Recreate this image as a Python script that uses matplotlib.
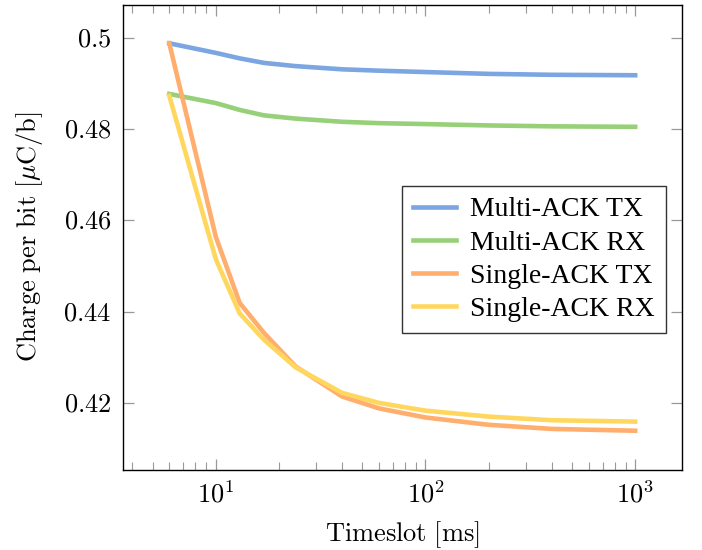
import matplotlib
matplotlib.use("Agg")
import matplotlib.pyplot as plt
import numpy as np

# timeslot [ms]
timeslot = [6, 10, 13, 17, 24, 40, 60, 100, 200, 400, 1000]

multi_tx = [0.4988, 0.4967, 0.4955, 0.4945, 0.4938, 0.4931, 0.4928, 0.4925, 0.4921, 0.4919, 0.4918]
multi_rx = [0.4877, 0.4857, 0.4842, 0.4830, 0.4823, 0.4816, 0.4813, 0.4811, 0.4808, 0.4806, 0.4805]
single_tx = [0.4988, 0.4564, 0.4419, 0.4353, 0.4280, 0.4214, 0.4188, 0.4168, 0.4152, 0.4143, 0.4139]
single_rx = [0.4873, 0.4515, 0.4396, 0.4338, 0.4278, 0.4222, 0.4200, 0.4183, 0.4170, 0.4162, 0.4159]

labels = ['Multi-ACK TX', 'Multi-ACK RX', 'Single-ACK TX', 'Single-ACK RX']
colors = ['#7ba6e1', '#96d078', '#ffae6e', '#ffd75e']

yticks = [0.42, 0.44, 0.46, 0.48, 0.5]
ytick_labels = [r'$0.42$', r'$0.44$', r'$0.46$', r'$0.48$', r'$0.5$']
xticks = [10, 100, 1000]
xtick_labels = [r'$10^{1}$', r'$10^{2}$', r'$10^{3}$']

plt.rcParams['mathtext.fontset'] = 'cm'
plt.rcParams['font.family'] = ['Liberation Serif', 'DejaVu Serif']

fig = plt.figure(figsize=(7.02, 5.5), dpi=100)
ax = fig.add_axes([0.1748, 0.1455, 0.7963, 0.8463])

series = [multi_tx, multi_rx, single_tx, single_rx]
for vals, lab, c in zip(series, labels, colors):
    ax.plot(timeslot, vals, color=c, lw=3.3, label=lab, solid_joinstyle='round')

ax.set_xscale('log')
ax.set_xlim(10 ** 0.556, 10 ** 3.222)
ax.set_ylim(0.4053, 0.5073)

ax.set_yticks(yticks)
ax.set_yticklabels(ytick_labels)
ax.set_xticks(xticks)
ax.set_xticklabels(xtick_labels)
ax.xaxis.set_minor_locator(matplotlib.ticker.LogLocator(base=10, subs=np.arange(2, 10)))
ax.xaxis.set_minor_formatter(matplotlib.ticker.NullFormatter())

ax.tick_params(which='both', direction='in', top=True, right=True, color='#999999',
               labelsize=19, pad=8)
ax.tick_params(which='major', length=8, width=0.9)
ax.tick_params(which='minor', length=5.5, width=0.8)
for s in ax.spines.values():
    s.set_linewidth(1.0)

ax.set_xlabel(r'$\mathrm{Timeslot\ [ms]}$', fontsize=19, labelpad=8)
ax.set_ylabel(r'$\mathrm{Charge\ per\ bit\ [}\mu\mathrm{C/b]}$', fontsize=19, labelpad=13)

leg = ax.legend(loc='center right', bbox_to_anchor=(0.972, 0.452), fontsize=20,
                frameon=True, fancybox=False, edgecolor='black', handlelength=1.55,
                handletextpad=0.5, labelspacing=0.28, borderpad=0.4, borderaxespad=0)
leg.get_frame().set_linewidth(1.0)
for h in leg.get_lines():
    h.set_linewidth(3.3)

fig.savefig('out.png', dpi=100)
